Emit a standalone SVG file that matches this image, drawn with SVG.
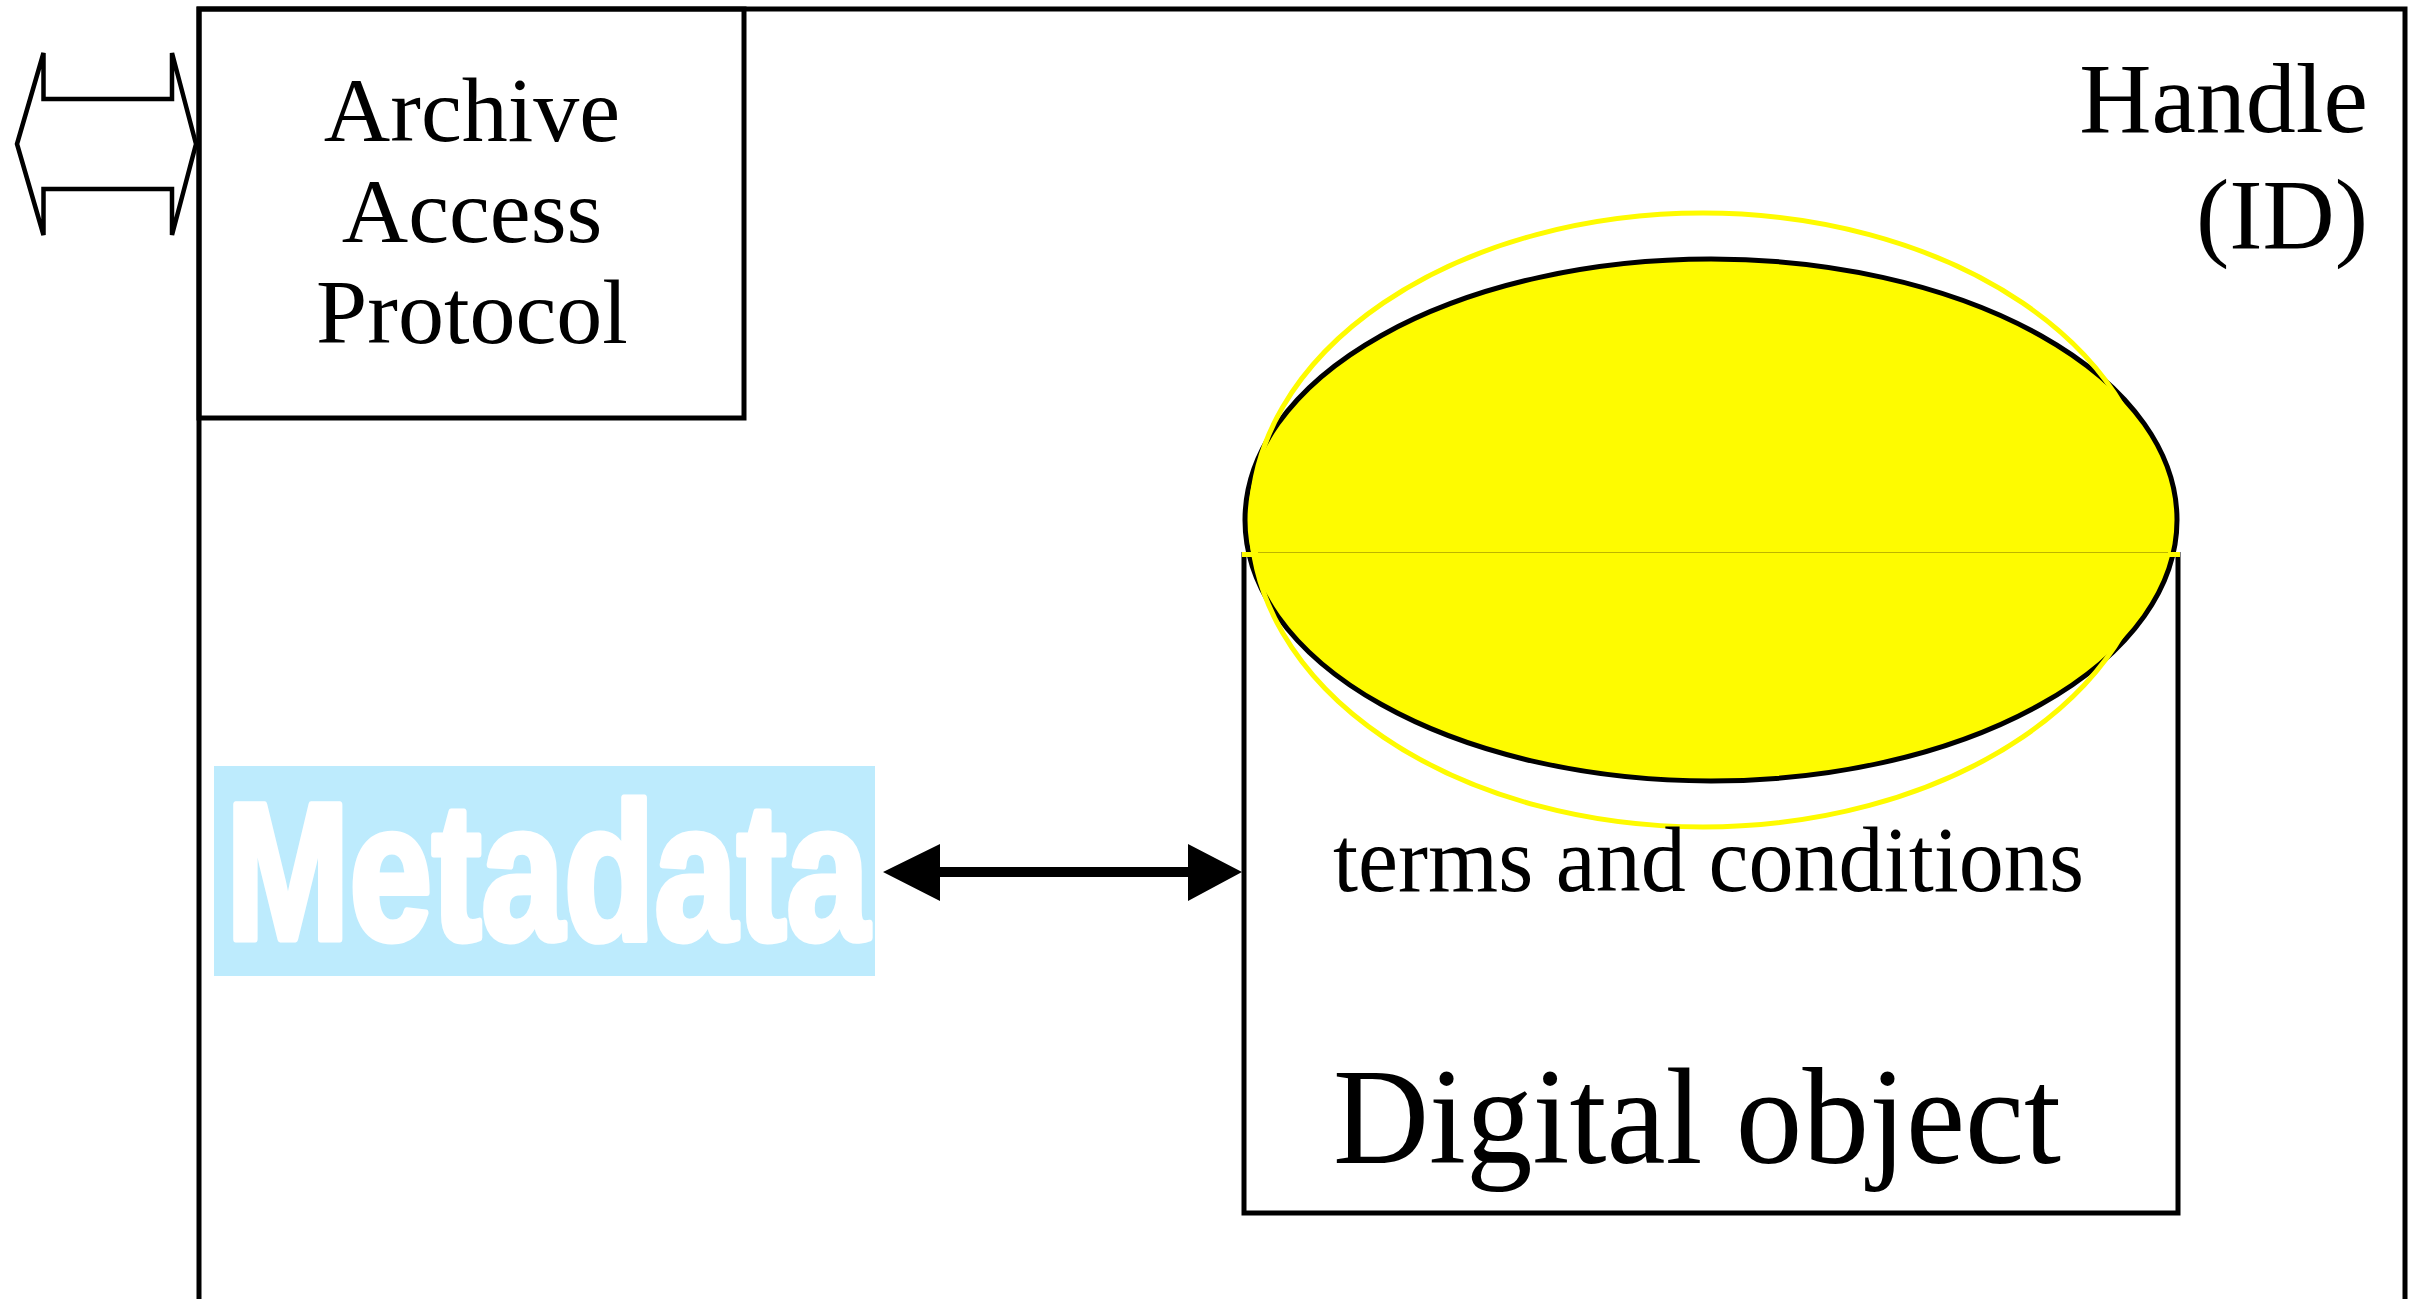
<svg xmlns="http://www.w3.org/2000/svg" width="2416" height="1299" viewBox="0 0 2416 1299">
<style>
.serif{font-family:"Liberation Serif","Times New Roman",serif;fill:#000}
.box{fill:none;stroke:#000;stroke-width:5}
.meta{font-family:"Liberation Sans",Arial,sans-serif;font-weight:bold;fill:#fff;stroke:#fff;stroke-width:7;stroke-linejoin:round}
</style>
<rect width="2416" height="1299" fill="#fff"/>
<g id="handle">
<rect class="box" x="199" y="9" width="2206" height="1320"/>
<text class="serif" font-size="100" text-anchor="end" x="2368" y="132">Handle</text>
<text class="serif" font-size="100" text-anchor="end" x="2368" y="248">(ID)</text>
</g>
<g id="archive">
<rect class="box" x="199" y="9" width="545" height="409"/>
<text class="serif" font-size="92" text-anchor="middle" x="472" y="141">Archive</text>
<text class="serif" font-size="92" text-anchor="middle" x="472" y="242">Access</text>
<text class="serif" font-size="92" text-anchor="middle" x="472" y="343">Protocol</text>
</g>
<g id="metadata">
<rect x="214" y="766" width="661" height="210" fill="#bdebfd"/>
<text class="meta" font-size="194" x="226" y="939" textLength="643" lengthAdjust="spacingAndGlyphs">Metadata</text>
</g>
<g id="digital-object">
<path d="M1244 552 V1213 H2178 V552" fill="none" stroke="#000" stroke-width="5"/>
<ellipse cx="1711" cy="520" rx="466" ry="261" fill="#fefb00" stroke="#000" stroke-width="5"/>
<ellipse cx="1703" cy="520" rx="452" ry="307" fill="none" stroke="#fefb00" stroke-width="5"/>
<line x1="1242" y1="554.5" x2="2180" y2="554.5" stroke="#fefb00" stroke-width="5"/>
<line x1="1258" y1="552.5" x2="2168" y2="552.5" stroke="#bdb500" stroke-width="1"/>
<text class="serif" font-size="93" x="1333" y="891" textLength="751" lengthAdjust="spacingAndGlyphs">terms and conditions</text>
<text class="serif" font-size="138" x="1333" y="1163" textLength="728" lengthAdjust="spacingAndGlyphs">Digital object</text>
</g>
<g id="connectors">
<polygon points="17,144 43.5,53 43.5,99 172,99 172,53 196,144 172,235 172,189 43.5,189 43.5,235" fill="#fff" stroke="#000" stroke-width="4.5" stroke-linejoin="miter"/>
<polygon points="883,872 940,844 940,867 1188,867 1188,844 1242,872 1188,901 1188,877 940,877 940,901" fill="#000"/>
</g>
</svg>
